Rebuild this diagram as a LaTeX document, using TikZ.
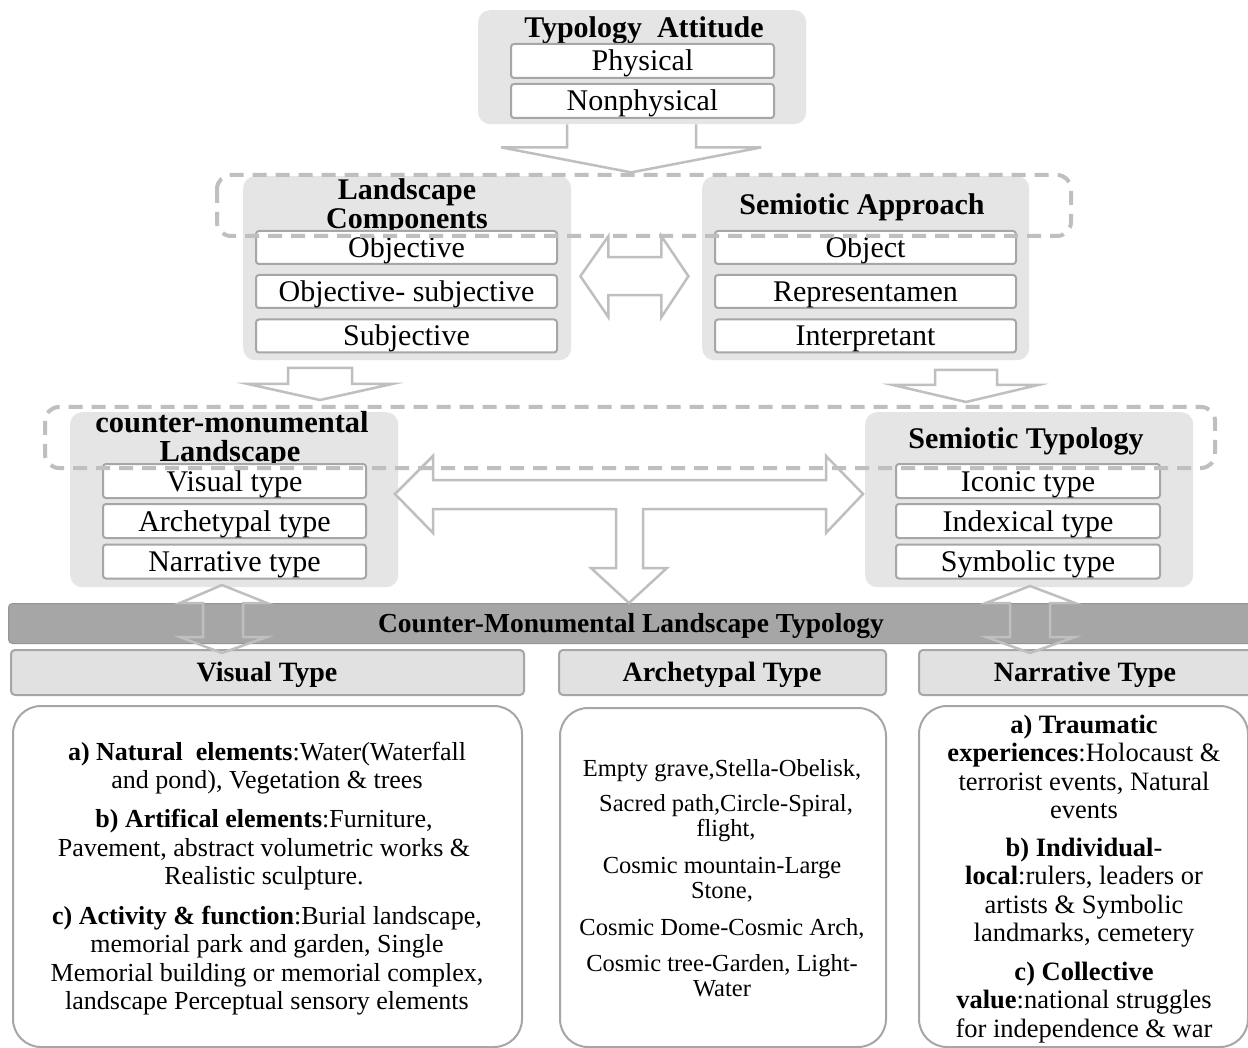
\documentclass[tikz,border=0pt]{standalone}
\usepackage{fontspec}
\setmainfont{Liberation Serif}
\usetikzlibrary{calc}
\definecolor{grpfill}{HTML}{E5E5E5}
\definecolor{inborder}{HTML}{A6A6A6}
\definecolor{arrowc}{HTML}{BFBFBF}
\definecolor{dashc}{HTML}{BFBFBF}
\definecolor{hdrfill}{HTML}{E1E1E1}
\definecolor{barfill}{HTML}{A6A6A6}
\begin{document}
\begin{tikzpicture}[x=1pt,y=-1pt,
  grp/.style={fill=grpfill, rounded corners=12pt, inner sep=0pt, anchor=north west},
  inbox/.style={draw=inborder, line width=2pt, fill=white, rounded corners=3pt, inner sep=0pt, text height=23pt, text depth=3pt, font=\fontsize{30}{30}\selectfont},
  ttl/.style={font=\bfseries\fontsize{30}{30}\selectfont, inner sep=0pt, anchor=base},
  blk/.style={draw=arrowc, line width=2.5pt, fill=white, line join=miter},
  blkopen/.style={draw=arrowc, line width=2.5pt, line join=miter},
  dsh/.style={draw=dashc, line width=4pt, dash pattern=on 14pt off 9pt, rounded corners=14pt},
  hdr/.style={draw=inborder, fill=hdrfill, line width=2pt, rounded corners=4pt, anchor=north west, inner sep=0pt},
  hdrt/.style={font=\bfseries\fontsize{28}{28}\selectfont, inner sep=0pt, anchor=base},
  card/.style={draw=inborder, line width=2pt, fill=white, rounded corners=28pt, anchor=north west, inner sep=0pt},
  parl/.style={align=center, inner sep=0pt, font=\fontsize{26}{28.4}\selectfont},
  parm/.style={align=center, inner sep=0pt, font=\fontsize{24.5}{25.4}\selectfont},
  parr/.style={align=center, inner sep=0pt, font=\fontsize{26.5}{28.4}\selectfont}
]
\clip (0,0) rectangle (1248,1048);
\fill[white] (0,0) rectangle (1248,1048);

% group boxes
\node[grp, minimum width=328pt, minimum height=114pt] (ta) at (478,10) {};
\node[grp, minimum width=328pt, minimum height=184pt] (lc) at (243,176) {};
\node[grp, minimum width=327pt, minimum height=184pt] (sa) at (702,176) {};
\node[grp, minimum width=328pt, minimum height=175pt] (cm) at (70,412) {};
\node[grp, minimum width=328pt, minimum height=175pt] (st) at (865,412) {};

% titles
\node[ttl] (tat) at (644,38) {Typology~~Attitude};
\node[ttl] (lct1) at (407,199.5) {Landscape};
\node[ttl] (lct2) at (407,228.5) {Components};
\node[ttl] (sat) at (862,214.5) {Semiotic Approach};
\node[ttl, font=\bfseries\fontsize{30.5}{30}\selectfont] (cmt1) at (232,432.5) {counter-monumental};
\node[ttl, font=\bfseries\fontsize{30.5}{30}\selectfont] (cmt2) at (230,461.5) {Landscape};
\node[ttl] (stt) at (1026,448.5) {Semiotic Typology};

% inner boxes
\node[inbox, minimum width=263pt, minimum height=34pt] (phys) at (642.5,61) {Physical};
\node[inbox, minimum width=263pt, minimum height=34pt] (nphys) at (642.5,101) {Nonphysical};
\node[inbox, minimum width=301pt, minimum height=33pt] (obj) at (406.5,247.5) {Objective};
\node[inbox, minimum width=301pt, minimum height=33pt] (objsub) at (406.5,291.5) {Objective- subjective};
\node[inbox, minimum width=301pt, minimum height=33pt] (subj) at (406.5,336) {Subjective};
\node[inbox, minimum width=301pt, minimum height=33pt] (objt) at (865.5,247.5) {Object};
\node[inbox, minimum width=301pt, minimum height=33pt] (repr) at (865.5,291.5) {Representamen};
\node[inbox, minimum width=301pt, minimum height=33pt] (interp) at (865.5,336) {Interpretant};
\node[inbox, minimum width=263pt, minimum height=34pt] (vis) at (234.5,481) {Visual type};
\node[inbox, minimum width=263pt, minimum height=34pt] (arch) at (234.5,521) {Archetypal type};
\node[inbox, minimum width=263pt, minimum height=34pt] (narr) at (234.5,561.5) {Narrative type};
\node[inbox, minimum width=264pt, minimum height=34pt] (icon) at (1028,481) {Iconic type};
\node[inbox, minimum width=264pt, minimum height=34pt] (indx) at (1028,521) {Indexical type};
\node[inbox, minimum width=264pt, minimum height=34pt] (symb) at (1028,561.5) {Symbolic type};

% bar and headers
\node[anchor=north west, fill=barfill, draw=inborder!90!black, line width=1pt, rounded corners=4pt, minimum width=1250pt, minimum height=40pt, inner sep=0pt] (bar) at (8,603) {};
\node[hdrt, font=\bfseries\fontsize{27.5}{28}\selectfont] (bart) at (631,632) {Counter-Monumental Landscape Typology};
\node[hdr, minimum width=513pt, minimum height=45pt] (hv) at (10,649) {};
\node[hdrt] (hvt) at (267,681) {Visual Type};
\node[hdr, minimum width=327pt, minimum height=45pt] (ha) at (558,649) {};
\node[hdrt] (hat) at (722,681) {Archetypal Type};
\node[hdr, minimum width=334pt, minimum height=45pt] (hn) at (918,649) {};
\node[hdrt] (hnt) at (1085,681) {Narrative Type};

% cards
\node[card, minimum width=509pt, minimum height=341pt] (cv) at (12,705) {};
\node[card, minimum width=326pt, minimum height=339pt] (ca) at (559,707) {};
\node[card, minimum width=329pt, minimum height=341pt] (cn) at (918,705) {};

\node[parl] (va) at (267,768) {\textbf{a) Natural~~elements}:Water(Waterfall\\and pond), Vegetation \& trees};
\node[parl] (vb) at (264,850) {\textbf{b) Artifical elements}:Furniture,\\Pavement, abstract volumetric works \&\\Realistic sculpture.};
\node[parl] (vc) at (267,960.5) {\textbf{c) Activity \& function}:Burial landscape,\\memorial park and garden, Single\\Memorial building or memorial complex,\\landscape Perceptual sensory elements};

\node[parm] (a1) at (722,771) {Empty grave,Stella-Obelisk,};
\node[parm] (a2) at (726,818) {Sacred path,Circle-Spiral,\\flight,};
\node[parm] (a3) at (722,880) {Cosmic mountain-Large\\Stone,};
\node[parm] (a4) at (722,928.5) {Cosmic Dome-Cosmic Arch,};
\node[parm] (a5) at (722,975.5) {Cosmic tree-Garden, Light-\\Water};

\node[parr] (na) at (1084,767) {\textbf{a) Traumatic}\\\textbf{experiences}:Holocaust \&\\terrorist events, Natural\\events};
\node[parr] (nb) at (1084,892.5) {\textbf{b) Individual}-\\\textbf{local}:rulers, leaders or\\artists \& Symbolic\\landmarks, cemetery};
\node[parr] (nc) at (1084,1002.5) {\textbf{c) Collective}\\\textbf{value}:national struggles\\for independence \& war};

% block arrows
\draw[blk] ([xshift=-75pt]ta.south) -- ++(0,23) -- ++(-66,0) -- ++(130,25) -- ++(130,-25) -- ++(-65,0) -- ++(0,-23);
\path (lc.east) ++(9,8) coordinate (dl);
\draw[blk] (dl) -- ++(28,-40) -- ++(0,21) -- ++(53,0) -- ++(0,-21) -- ++(27,40) -- ++(-27,41) -- ++(0,-22) -- ++(-53,0) -- ++(0,22) -- cycle;
\draw[blk] (288,368) -- ++(0,16) -- ++(-40,0) -- ++(72,16) -- ++(72,-16) -- ++(-40,0) -- ++(0,-16) -- cycle;
\draw[blk] (935,370) -- ++(0,15) -- ++(-42,0) -- ++(73,17) -- ++(72,-17) -- ++(-41,0) -- ++(0,-15) -- cycle;
\draw[blk] (395,494) -- (433,456) -- (433,480) -- (826,480) -- (826,456) -- (863,494) -- (826,533) -- (826,509) -- (643,509) -- (643,568) -- (667,568) -- (629,603) -- (591,568) -- (616,568) -- (616,509) -- (433,509) -- (433,533) -- cycle;
\draw[blkopen] (222,585) -- (267,603) -- (243,603) -- (243,637) -- (267,637) -- (222,653) -- (180,637) -- (203,637) -- (203,603) -- (180,603) -- cycle;
\draw[blkopen] (1030,586) -- (1075,603) -- (1050,603) -- (1050,637) -- (1075,637) -- (1030,653) -- (986,637) -- (1010,637) -- (1010,603) -- (986,603) -- cycle;

% dashed groupings
\draw[dsh] (217,175) rectangle (1071,236);
\draw[dsh] (45,407) rectangle (1215,468);
\end{tikzpicture}
\end{document}
